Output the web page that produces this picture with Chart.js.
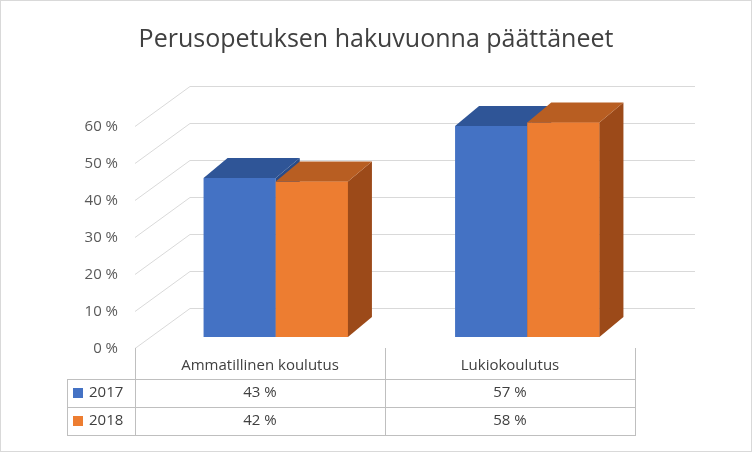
<!DOCTYPE html>
<html lang="fi">
<head>
<meta charset="UTF-8">
<script src="https://cdn.jsdelivr.net/npm/chart.js"></script>
<style>
  body { margin: 0; background: #fff; }
  #wrap { width: 752px; height: 452px; }
</style>
</head>
<body>
<div id="wrap"><canvas id="c" width="752" height="452"></canvas></div>
<script>
const title = 'Perusopetuksen hakuvuonna päättäneet';
const categories = ['Ammatillinen koulutus', 'Lukiokoulutus'];
const seriesNames = ['2017', '2018'];
const values2017 = [43, 57];
const values2018 = [42, 58];
const yTicks = [0, 10, 20, 30, 40, 50, 60];

const colors = ['#4472C4', '#ED7D31'];
const topColors = ['#2F5597', '#B85E22'];
const sideColors = ['#2A4C88', '#9C4A19'];
const DX = 24, DY = -20;
const FONT = '"Open Sans", "Liberation Sans", sans-serif';

const deco = {
  id: 'deco',
  beforeDatasetsDraw(chart) {
    const ctx = chart.ctx, y = chart.scales.y;
    ctx.save();
    ctx.strokeStyle = '#D9D9D9'; ctx.lineWidth = 1;
    ctx.fillStyle = '#595959'; ctx.font = '15px ' + FONT;
    ctx.textAlign = 'right'; ctx.textBaseline = 'middle';
    yTicks.forEach(v => {
      const py = Math.round(y.getPixelForValue(v) + 11) + 0.5;
      ctx.beginPath();
      ctx.moveTo(135, py); ctx.lineTo(190, py - 40); ctx.lineTo(695, py - 40);
      ctx.stroke();
      ctx.fillText(v + ' %', 118, py);
    });
    ctx.restore();
  },
  afterDatasetsDraw(chart) {
    const ctx = chart.ctx;
    ctx.save();
    const metas = [chart.getDatasetMeta(0), chart.getDatasetMeta(1)];
    for (let i = 0; i < categories.length; i++) {
      metas.forEach((m, d) => {
        const b = m.data[i];
        const l = b.x - b.width / 2, r = b.x + b.width / 2, t = b.y, bt = b.base;
        if (d === 1) { ctx.fillStyle = colors[1]; ctx.fillRect(l, t, r - l, bt - t); }
        ctx.fillStyle = sideColors[d];
        ctx.beginPath();
        ctx.moveTo(r, t); ctx.lineTo(r + DX, t + DY); ctx.lineTo(r + DX, bt + DY); ctx.lineTo(r, bt);
        ctx.closePath(); ctx.fill();
        ctx.fillStyle = topColors[d];
        ctx.beginPath();
        ctx.moveTo(l, t); ctx.lineTo(l + DX, t + DY); ctx.lineTo(r + DX, t + DY); ctx.lineTo(r, t);
        ctx.closePath(); ctx.fill();
      });
    }
    // title
    ctx.fillStyle = '#404040'; ctx.font = '25px ' + FONT;
    ctx.textAlign = 'center'; ctx.textBaseline = 'middle';
    ctx.fillText(title, 376, 40);
    // data table
    ctx.strokeStyle = '#BFBFBF'; ctx.lineWidth = 1;
    const line = (x1, y1, x2, y2) => { ctx.beginPath(); ctx.moveTo(x1, y1); ctx.lineTo(x2, y2); ctx.stroke(); };
    [379.5, 407.5, 435.5].forEach(yy => line(67, yy, 635, yy));
    line(135.5, 348, 135.5, 436); line(385.5, 348, 385.5, 436); line(635.5, 348, 635.5, 436);
    line(67.5, 379, 67.5, 436);
    ctx.fillStyle = '#404040'; ctx.font = '15px ' + FONT;
    categories.forEach((c, i) => ctx.fillText(c, 260 + i * 250, 366));
    const rows = [values2017, values2018];
    rows.forEach((vals, r) => {
      const ry = 393 + r * 28;
      ctx.fillStyle = colors[r]; ctx.fillRect(73, ry - 5, 10, 10);
      ctx.fillStyle = '#404040'; ctx.textAlign = 'left';
      ctx.fillText(seriesNames[r], 89, ry);
      ctx.textAlign = 'center';
      vals.forEach((v, i) => ctx.fillText(v + ' %', 260 + i * 250, ry));
    });
    // outer border
    ctx.strokeStyle = '#D9D9D9';
    ctx.strokeRect(0.5, 0.5, 751, 451);
    ctx.restore();
  }
};

new Chart(document.getElementById('c'), {
  type: 'bar',
  data: {
    labels: categories,
    datasets: [
      { label: seriesNames[0], data: values2017, backgroundColor: colors[0] },
      { label: seriesNames[1], data: values2018, backgroundColor: colors[1] }
    ]
  },
  options: {
    responsive: false,
    animation: false,
    layout: { padding: { left: 150, right: 99, top: 115, bottom: 115 } },
    datasets: { bar: { categoryPercentage: 0.574, barPercentage: 1 } },
    scales: {
      x: { display: false },
      y: { display: false, min: 0, max: 60 }
    },
    plugins: { legend: { display: false }, tooltip: { enabled: false } }
  },
  plugins: [deco]
});
</script>
</body>
</html>
